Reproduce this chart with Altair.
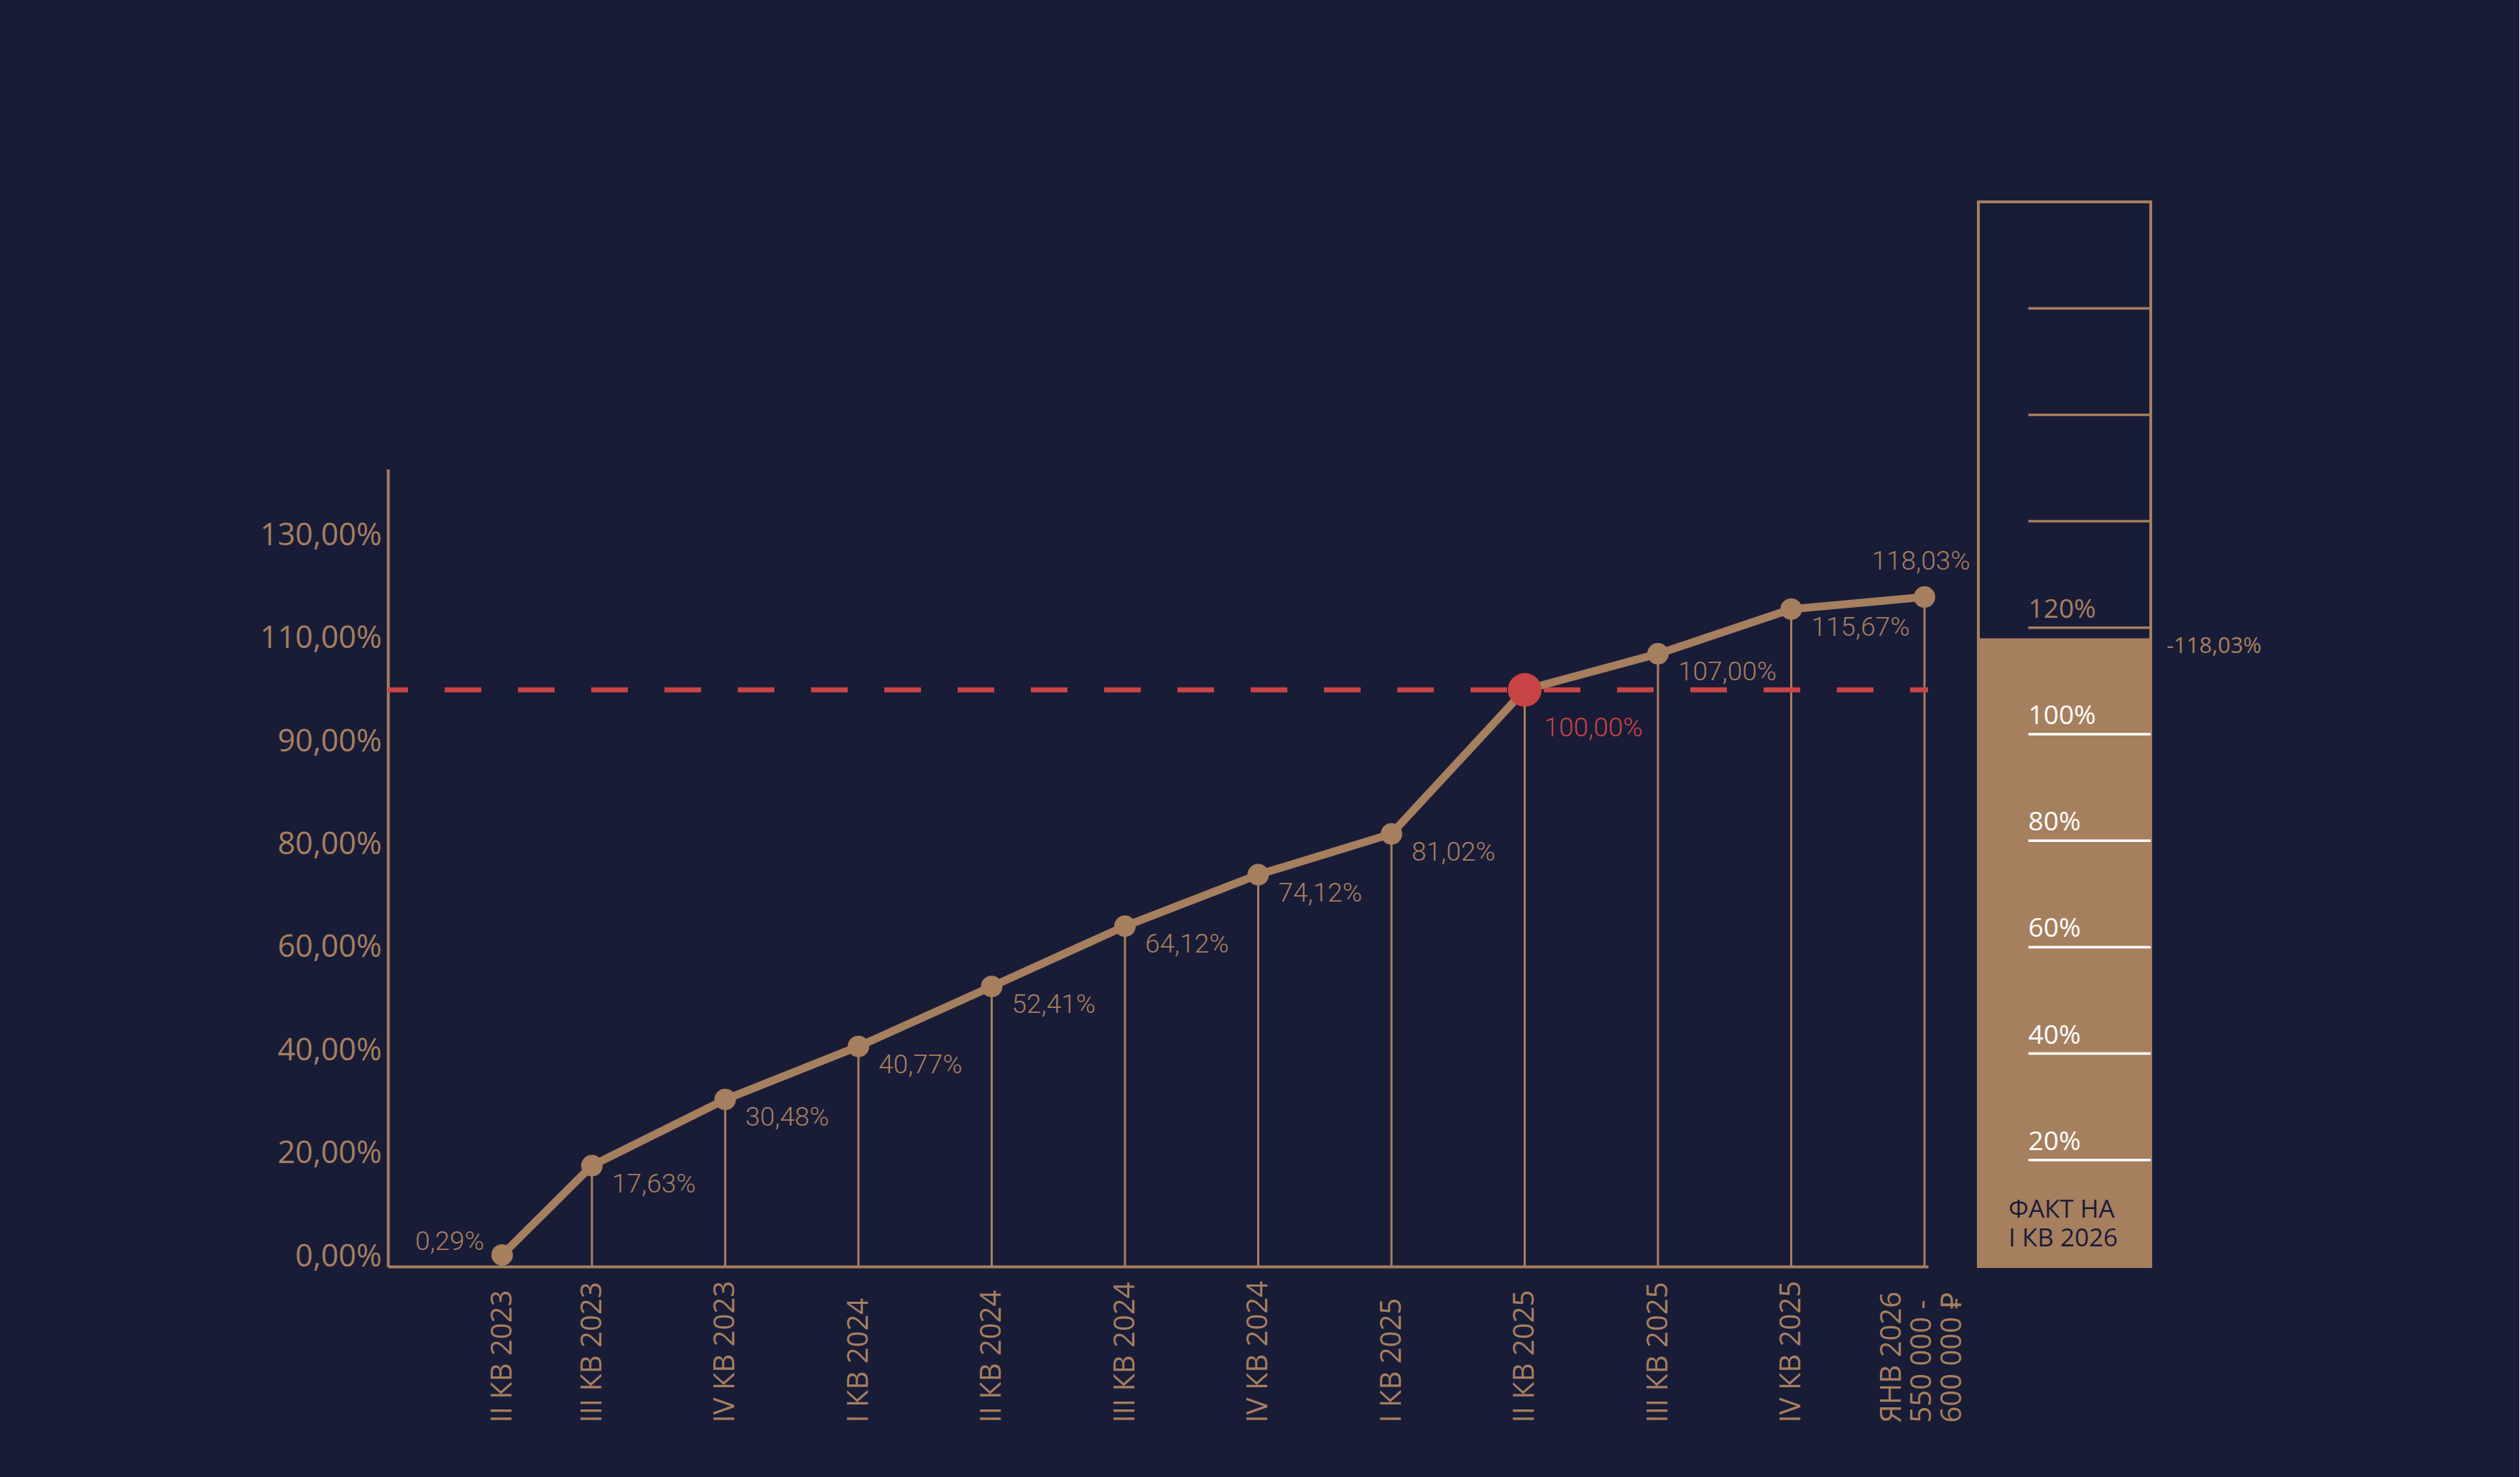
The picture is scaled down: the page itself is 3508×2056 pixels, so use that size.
import json
import altair as alt
import pandas as pd

# ---------------- colours ----------------
BG = "#191c37"
BROWN = "#a67f5f"
RED = "#c84444"
WHITE = "#ffffff"
NAVY = "#191c37"

# ---------------- data ----------------
quarters = [
    "II КВ 2023", "III КВ 2023", "IV  КВ 2023", "I КВ 2024", "II КВ 2024",
    "III КВ 2024", "IV КВ 2024", "I КВ 2025", "II КВ 2025", "III КВ 2025",
    "IV КВ 2025", "ЯНВ 2026|550 000 -|600 000 ₽",
]
values = [0.29, 17.63, 30.48, 40.77, 52.41, 64.12, 74.12, 81.02, 100.00, 107.00, 115.67, 118.03]
value_labels = ["0,29%", "17,63%", "30,48%", "40,77%", "52,41%", "64,12%", "74,12%",
                "81,02%", "100,00%", "107,00%", "115,67%", "118,03%"]

y_ticks = [0, 20, 40, 60, 80, 90, 110, 130]          # axis labels as printed
TARGET = 100                                        # plan line

FILL_VALUE = 118.03                                 # thermometer fill
FILL_TEXT = "-118,03%"
THERMO_MAX = 200
thermo_ticks = [20, 40, 60, 80, 100, 120, 140, 160, 180]
thermo_tick_labels = ["20%", "40%", "60%", "80%", "100%", "120%", "", "", ""]
fact_text = "ФАКТ НА\nI КВ 2026"

# ---------------- layout ----------------
MAIN_W = 2144
H = 1482
TH_W = 240

# printed y axis is not linear: equal steps between the printed labels
y_domain = [-2] + y_ticks + [143]
step = 143.4
y_range = [H, H - 14] + [H - 14 - step * (i + 1) for i in range(len(y_ticks) - 1)] + [372]

# printed x axis: first gap narrower than the others
n = len(quarters)
x_domain = [-1, 0, 1, n - 1, n - 0.97]
x_range = [0, 159, 284, 2139, MAIN_W]

df = pd.DataFrame({
    "idx": list(range(n)),
    "value": values,
    "label": value_labels,
})

y_scale = alt.Scale(domain=y_domain, range=y_range, zero=False, nice=False)
x_scale = alt.Scale(domain=x_domain, range=x_range, zero=False, nice=False)

x_enc = alt.X(
    "idx:Q", scale=x_scale,
    axis=alt.Axis(
        title=None, values=list(range(n)),
        labelExpr="split(" + json.dumps(quarters, ensure_ascii=False) + "[datum.value], '|')",
        labelAngle=270, labelAlign="left", labelBaseline="middle",
        labelOffset={"condition": {"test": f"datum.value == {n - 1}", "value": -46}, "value": 0},
        labelPadding=217, ticks=False, tickSize=0, grid=False,
        domainColor=BROWN, domainWidth=4,
        labelColor=BROWN, labelFont="Open Sans", labelFontSize=40,
        labelLineHeight=42, labelOverlap=False, labelFlush=False, labelLimit=0,
    ),
)
y_enc = alt.Y(
    "value:Q", scale=y_scale,
    axis=alt.Axis(
        title=None, values=y_ticks, ticks=False, tickSize=0, grid=False,
        domainColor=BROWN, domainWidth=4, labelPadding=9,
        labelColor=BROWN, labelFont="Open Sans", labelFontSize=43,
        labelOverlap=False, labelFlush=False, labelLimit=0,
        labelExpr="replace(format(datum.value, '.2f'), '.', ',') + '%'",
    ),
)

base = alt.Chart(df)

drops = base.mark_rule(color=BROWN, strokeWidth=3).encode(
    x=x_enc, y=y_enc, y2=alt.datum(y_domain[0])
)
target_line = alt.Chart(pd.DataFrame({"t": [TARGET]})).mark_rule(
    color=RED, strokeWidth=7, strokeDash=[51, 51], strokeDashOffset=26
).encode(y=alt.Y("t:Q", scale=y_scale))
line = base.mark_line(color=BROWN, strokeWidth=11).encode(x=x_enc, y=y_enc)
points = base.mark_circle(size=900, color=BROWN, opacity=1).encode(x=x_enc, y=y_enc)
red_point = base.transform_filter(alt.datum.value == TARGET).mark_circle(
    size=2200, color=RED, opacity=1
).encode(x=x_enc, y=y_enc)

txt = dict(font="Roboto", fontSize=37, fontWeight=300)
last_idx = n - 1
lbl_mid = base.transform_filter(
    (alt.datum.idx > 0) & (alt.datum.idx < last_idx) & (alt.datum.value != TARGET)
).mark_text(align="left", baseline="middle", dx=28, dy=26, color=BROWN, **txt).encode(
    x=x_enc, y=y_enc, text="label:N")
lbl_target = base.transform_filter(alt.datum.value == TARGET).mark_text(
    align="left", baseline="middle", dx=27, dy=54, color=RED, **txt
).encode(x=x_enc, y=y_enc, text="label:N")
lbl_first = base.transform_filter(alt.datum.idx == 0).mark_text(
    align="right", baseline="middle", dx=-25, dy=-18, color=BROWN, **txt
).encode(x=x_enc, y=y_enc, text="label:N")
lbl_last = base.transform_filter(alt.datum.idx == last_idx).mark_text(
    align="center", baseline="middle", dx=-5, dy=-49, color=BROWN, **txt
).encode(x=x_enc, y=y_enc, text="label:N")

main = alt.layer(
    drops, target_line, line, points, red_point,
    lbl_mid, lbl_target, lbl_first, lbl_last
).properties(width=MAIN_W, height=H)

# ---------------- thermometer ----------------
tx = alt.Scale(domain=[0, 1], nice=False, zero=False)
ty = alt.Scale(domain=[0, THERMO_MAX], nice=False, zero=True)


def xd(v):
    return alt.XDatum(v, type="quantitative", scale=tx, axis=None)


fill_df = pd.DataFrame({"lo": [0], "hi": [FILL_VALUE]})
frame_df = pd.DataFrame({"lo": [0], "hi": [THERMO_MAX]})
ticks_df = pd.DataFrame({"v": thermo_ticks, "lab": thermo_tick_labels})

fill = alt.Chart(fill_df).mark_rect(color=BROWN).encode(
    x=xd(0), x2=alt.datum(1),
    y=alt.Y("lo:Q", scale=ty, axis=None), y2="hi:Q")
frame = alt.Chart(frame_df).mark_rect(
    fillOpacity=0, stroke=BROWN, strokeWidth=4
).encode(x=xd(0), x2=alt.datum(1),
         y=alt.Y("lo:Q", scale=ty, axis=None), y2="hi:Q")
tick_color = alt.condition(f"datum.v <= {FILL_VALUE}", alt.value(WHITE), alt.value(BROWN))
tick_rules = alt.Chart(ticks_df).mark_rule(strokeWidth=3.5).encode(
    x=xd(0.29), x2=alt.datum(1),
    y=alt.Y("v:Q", scale=ty, axis=None), color=tick_color)
tick_text = alt.Chart(ticks_df).transform_filter("datum.lab != ''").mark_text(
    align="left", baseline="alphabetic", dy=-14, font="Open Sans", fontSize=37
).encode(x=xd(0.29), y=alt.Y("v:Q", scale=ty, axis=None), text="lab:N", color=tick_color)
fact = alt.Chart(pd.DataFrame({"t": [fact_text], "y": [10.7]})).mark_text(
    align="left", baseline="middle", lineBreak="\n", lineHeight=40,
    font="Open Sans", fontSize=35, color=NAVY
).encode(x=xd(0.175), y=alt.Y("y:Q", scale=ty, axis=None), text="t:N")
fill_lbl = alt.Chart(pd.DataFrame({"t": [FILL_TEXT], "y": [FILL_VALUE]})).mark_text(
    align="left", baseline="middle", dx=22, dy=12,
    font="Open Sans", fontSize=31, color=BROWN
).encode(x=xd(1), y=alt.Y("y:Q", scale=ty, axis=None), text="t:N")

thermo = alt.layer(fill, frame, tick_rules, tick_text, fact, fill_lbl).properties(
    width=TH_W, height=H)

chart = alt.hconcat(main, thermo, spacing=70, bounds="flush").configure_view(
    stroke=None
).properties(
    background=BG,
    padding={"left": 361, "top": 279, "right": 358, "bottom": 77},
)

chart.save("out.html", embed_options={"renderer": "svg", "actions": False})
